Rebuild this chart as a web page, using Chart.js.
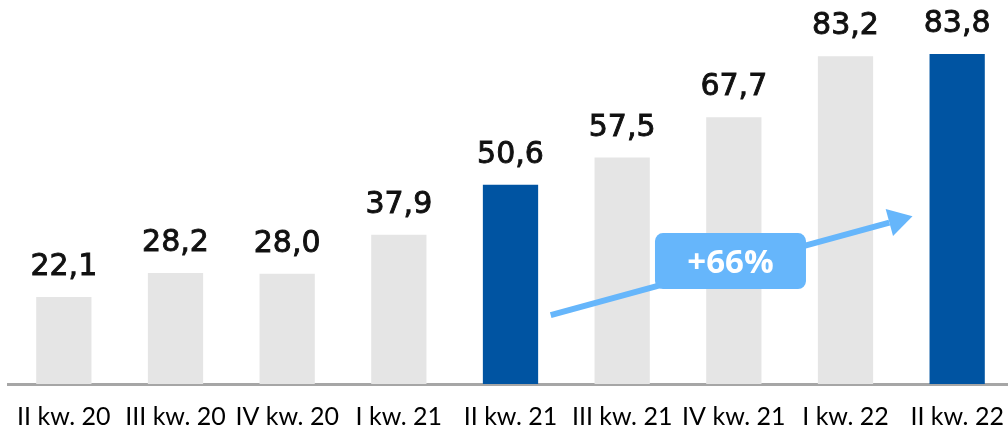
<!DOCTYPE html>
<html>
<head>
<meta charset="utf-8">
<script src="https://cdn.jsdelivr.net/npm/chart.js@4"></script>
<style>
  html, body { margin: 0; padding: 0; background: #fff; overflow: hidden; }
</style>
</head>
<body>
<canvas id="quarter-chart" width="1013" height="433"></canvas>
<script>
const quarters = ['II kw. 20', 'III kw. 20', 'IV kw. 20', 'I kw. 21', 'II kw. 21', 'III kw. 21', 'IV kw. 21', 'I kw. 22', 'II kw. 22'];
const values = [22.1, 28.2, 28.0, 37.9, 50.6, 57.5, 67.7, 83.2, 83.8];
const highlighted = [false, false, false, false, true, false, false, false, true];
const growthLabel = '+66%';
// arrow in data units: [category index, value]
const arrowFrom = [4.36, 17.5];
const arrowTo = [7.6, 42.6];
const badgeAt = [5.97, 31.2];

const GRAY = '#e5e5e5';
const BLUE = '#0054a2';
const LIGHT = '#66b6fb';

function formatValue(v) {
    return v.toFixed(1).replace('.', ',');
}

const valueLabels = {
    id: 'valueLabels',
    afterDatasetsDraw(chart) {
        const ctx = chart.ctx;
        const meta = chart.getDatasetMeta(0);
        ctx.save();
        ctx.font = '30px "DejaVu Sans"';
        ctx.fillStyle = '#111';
        ctx.strokeStyle = '#111';
        ctx.lineWidth = 0.9;
        ctx.textAlign = 'center';
        ctx.textBaseline = 'alphabetic';
        meta.data.forEach((bar, i) => {
            ctx.fillText(formatValue(values[i]), bar.x, bar.y - 22);
            ctx.strokeText(formatValue(values[i]), bar.x, bar.y - 22);
        });
        ctx.restore();
    }
};

const growthArrow = {
    id: 'growthArrow',
    afterDatasetsDraw(chart) {
        const ctx = chart.ctx;
        const xs = chart.scales.x, ys = chart.scales.y;
        const px = (i) => xs.getPixelForValue(0) + i * (xs.getPixelForValue(1) - xs.getPixelForValue(0));
        const x1 = px(arrowFrom[0]), y1 = ys.getPixelForValue(arrowFrom[1]);
        const x2 = px(arrowTo[0]), y2 = ys.getPixelForValue(arrowTo[1]);
        const ang = Math.atan2(y2 - y1, x2 - x1);
        const headLen = 24, headW = 14;
        ctx.save();
        ctx.strokeStyle = LIGHT;
        ctx.fillStyle = LIGHT;
        ctx.lineWidth = 6;
        ctx.beginPath();
        ctx.moveTo(x1, y1);
        ctx.lineTo(x2 - headLen * Math.cos(ang), y2 - headLen * Math.sin(ang));
        ctx.stroke();
        ctx.beginPath();
        ctx.moveTo(x2, y2);
        const bx = x2 - headLen * Math.cos(ang), by = y2 - headLen * Math.sin(ang);
        ctx.lineTo(bx + headW * Math.sin(ang), by - headW * Math.cos(ang));
        ctx.lineTo(bx - headW * Math.sin(ang), by + headW * Math.cos(ang));
        ctx.closePath();
        ctx.fill();

        // badge
        const cx = px(badgeAt[0]), cy = ys.getPixelForValue(badgeAt[1]);
        const w = 151, h = 56, r = 8;
        ctx.beginPath();
        ctx.roundRect(cx - w / 2, cy - h / 2, w, h, r);
        ctx.fill();
        ctx.fillStyle = '#fff';
        ctx.font = 'bold 33px "Open Sans"';
        ctx.textAlign = 'center';
        ctx.textBaseline = 'middle';
        ctx.fillText(growthLabel, cx, cy + 2);
        ctx.restore();
    }
};

const ctx = document.getElementById('quarter-chart').getContext('2d');
new Chart(ctx, {
    type: 'bar',
    data: {
        labels: quarters,
        datasets: [{
            data: values,
            backgroundColor: highlighted.map(h => h ? BLUE : GRAY),
            barPercentage: 0.495,
            categoryPercentage: 1
        }]
    },
    options: {
        responsive: false,
        animation: false,
        layout: { padding: { left: 8, right: 0, top: 0, bottom: -16 } },
        plugins: {
            legend: { display: false },
            tooltip: { enabled: false }
        },
        scales: {
            x: {
                grid: { display: false, drawTicks: false },
                border: { display: true, color: '#a6a6a6', width: 3 },
                ticks: {
                    color: '#000',
                    font: { family: 'Lato', size: 25, lineHeight: 2.2 },
                    padding: 5,
                    maxRotation: 0,
                    autoSkip: false
                }
            },
            y: {
                display: false,
                min: 0,
                max: 97.5
            }
        }
    },
    plugins: [valueLabels, growthArrow]
});
</script>
</body>
</html>
